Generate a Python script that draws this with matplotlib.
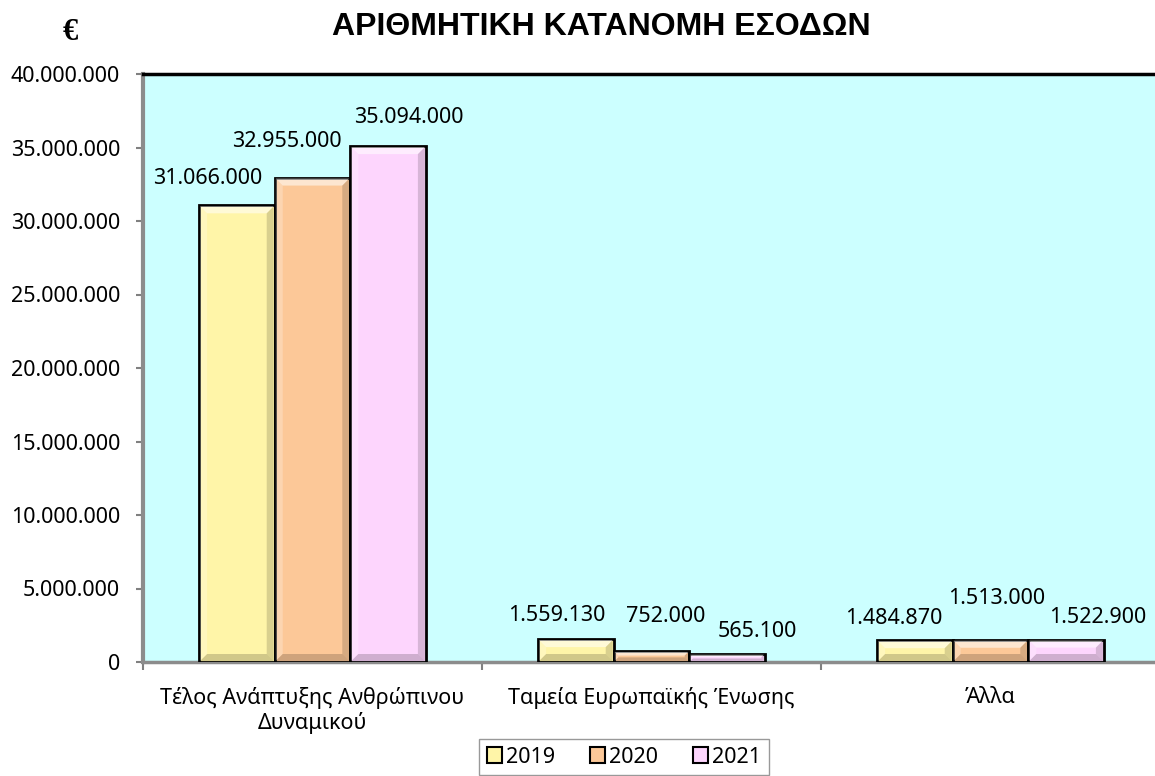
import matplotlib
matplotlib.use("Agg")
import matplotlib.pyplot as plt
import numpy as np
from matplotlib.patches import Patch, Polygon
from matplotlib.transforms import IdentityTransform
from matplotlib.ticker import FuncFormatter

plt.rcParams['font.family'] = ['Noto Sans', 'DejaVu Sans']

categories = ['Τέλος Ανάπτυξης Ανθρώπινου\nΔυναμικού', 'Ταμεία Ευρωπαϊκής Ένωσης', 'Άλλα']
years = ['2019', '2020', '2021']
v2019 = [31066000, 1559130, 1484870]
v2020 = [32955000, 752000, 1513000]
v2021 = [35094000, 565100, 1522900]
series = [v2019, v2020, v2021]

colors = ['#FFF5A8', '#FCC898', '#FDD5FD']
# label offsets (pixels) from top of each bar, mimicking excel's placement
label_offsets = [
    [(-29, 27), (-19, 24), (-21, 22)],
    [(-26, 36), (14, 34), (6, 41)],
    [(21, 29), (30, 22), (32, 22)],
]

def fmt(v, pos=None):
    return f"{v:,.0f}".replace(",", ".")

def bevel(ax, patch, b=7):
    # fake excel's bevel: light top/left, dark right/bottom
    x0, y0, x1, y1 = patch.get_window_extent().extents
    x0 += 1; x1 -= 1; y0 += 1; y1 -= 1
    b = min(b, (y1 - y0) / 2.5)
    faces = [
        ([(x0, y1), (x1, y1), (x1 - b, y1 - b), (x0 + b, y1 - b)], 'white', 0.55),
        ([(x0, y0), (x0, y1), (x0 + b, y1 - b), (x0 + b, y0 + b)], 'white', 0.25),
        ([(x1, y0), (x1, y1), (x1 - b, y1 - b), (x1 - b, y0 + b)], 'black', 0.15),
        ([(x0, y0), (x1, y0), (x1 - b, y0 + b), (x0 + b, y0 + b)], 'black', 0.18),
    ]
    for pts, c, a in faces:
        ax.add_patch(Polygon(pts, closed=True, facecolor=c, alpha=a, edgecolor='none',
                             transform=IdentityTransform(), zorder=3.5))

W, H = 1155, 776
fig = plt.figure(figsize=(W / 100, H / 100), dpi=100)
ax = fig.add_axes([143 / W, 1 - 662 / H, (1160 - 143) / W, (662 - 74) / H])
ax.set_facecolor('#CCFFFF')

x = np.arange(len(categories))
width = 0.223
ax.set_xlim(-0.5, 2.5)
ax.set_ylim(0, 40000000)

for i, (vals, c) in enumerate(zip(series, colors)):
    pos = x + (i - 1) * width
    bars = ax.bar(pos, vals, width, color=c, edgecolor='black', linewidth=2, zorder=3)
    for p in bars:
        bevel(ax, p)
    for xp, v, (dx, dy) in zip(pos, vals, label_offsets[i]):
        ax.annotate(fmt(v), (xp, v), xytext=(dx, dy), textcoords='offset pixels',
                    ha='center', va='center', fontsize=15.5, zorder=4)

ax.set_yticks(np.arange(0, 40000001, 5000000))
ax.yaxis.set_major_formatter(FuncFormatter(fmt))
ax.tick_params(axis='y', direction='out', length=5, width=1.5, color='#808080',
               labelsize=15.5, pad=11.5)

ax.set_xticks(x)
ax.set_xticklabels(categories, fontsize=15.5)
ax.set_xticks([-0.5, 0.5, 1.5, 2.5], minor=True)
ax.tick_params(axis='x', which='major', length=0, pad=18)
ax.tick_params(axis='x', which='minor', direction='out', length=6, width=1.5, color='#808080')

ax.spines['top'].set_color('black')
ax.spines['top'].set_linewidth(2.5)
ax.spines['left'].set_color('#8C8C8C')
ax.spines['left'].set_linewidth(3)
ax.spines['bottom'].set_color('#8C8C8C')
ax.spines['bottom'].set_linewidth(2.5)
ax.spines['right'].set_visible(False)

fig.text(601 / W, 1 - 27 / H, 'ΑΡΙΘΜΗΤΙΚΗ ΚΑΤΑΝΟΜΗ ΕΣΟΔΩΝ', ha='center', va='center',
         fontsize=23, fontweight='bold', family=['Liberation Sans', 'DejaVu Sans'])
fig.text(70 / W, 1 - 32 / H, '€', ha='center', va='center', fontsize=22,
         fontweight='bold', family=['Liberation Serif', 'DejaVu Serif'])

handles = [Patch(facecolor=c, edgecolor='black', linewidth=1.5, label=y)
           for c, y in zip(colors, years)]
leg = fig.legend(handles=handles, loc='upper center', bbox_to_anchor=(624 / W, 1 - 739 / H),
                 ncol=3, fontsize=15.5, frameon=True, fancybox=False, handlelength=0.7,
                 handleheight=0.7, handletextpad=0.2, columnspacing=1.6, borderpad=0.35,
                 borderaxespad=0)
leg.get_frame().set_edgecolor('#808080')
leg.get_frame().set_linewidth(1)

fig.savefig('out.png', dpi=100)
